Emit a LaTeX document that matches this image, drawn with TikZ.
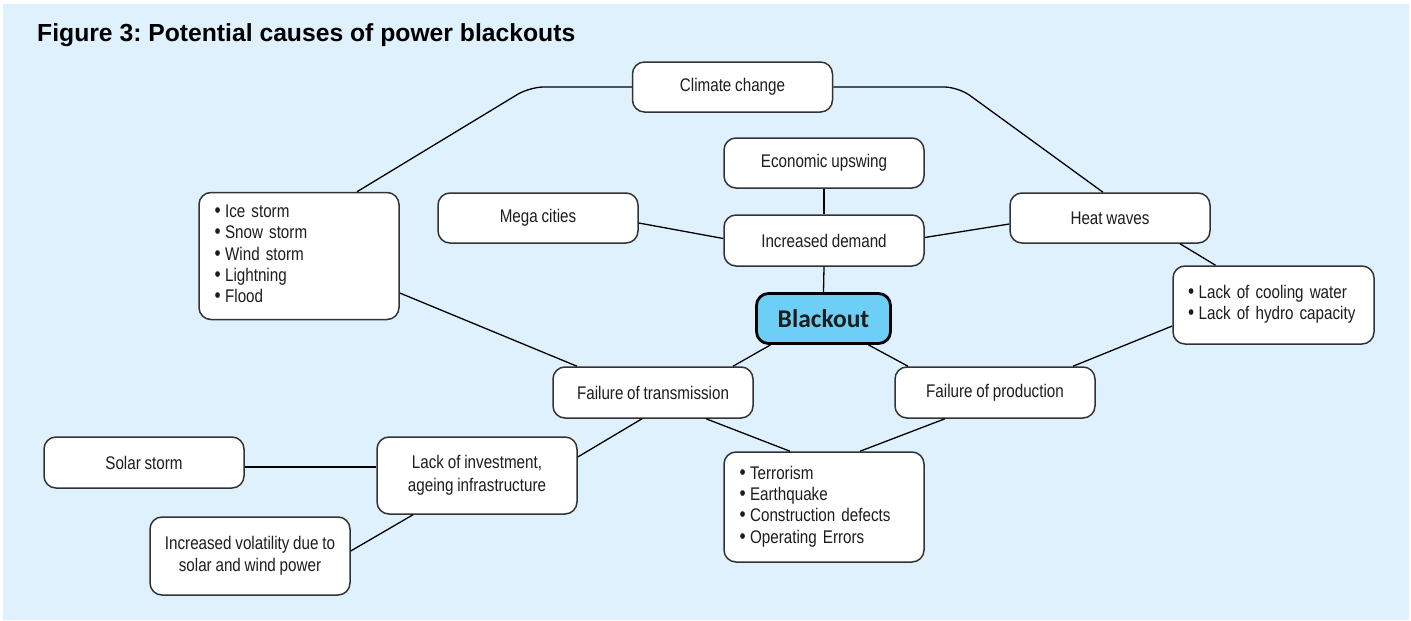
\documentclass[tikz,border=0pt]{standalone}
\usepackage{fontspec}
\setmainfont[FakeStretch=0.83,WordSpace=0.9]{Liberation Sans}
\newfontfamily\titlefont{Liberation Sans}
\newfontfamily\bofont{Carlito}
\definecolor{bgc}{HTML}{DFF1FC}
\definecolor{boxc}{HTML}{333333}
\definecolor{txt}{HTML}{1E1C1D}
\definecolor{bofill}{HTML}{6DCFF6}
\newcommand\blt{{\fontsize{21}{21}\selectfont•}\hspace{4.5pt}}
\newcommand\blist[1]{\begin{tabular}{@{}l@{}}#1\end{tabular}}
\frenchspacing
\begin{document}
\begin{tikzpicture}[x=1pt,y=-1pt,
  box/.style={draw=boxc, line width=1.5pt, fill=white, rounded corners=12pt,
    minimum width=200pt, minimum height=50pt, inner sep=0pt, text=txt, align=center,
    font=\fontsize{18.3}{22.5}\selectfont},
  blbox/.style={box, align=left, text width=169pt, inner xsep=15.5pt,
    font=\fontsize{18.3}{21.3}\selectfont},
  bostyle/.style={draw=black, line width=2.8pt, fill=bofill, rounded corners=12pt,
    minimum width=134pt, minimum height=50pt, inner sep=0pt, text=txt,
    font=\bofont\bfseries\fontsize{25.5}{30}\selectfont},
  conn/.style={line width=1.3pt, draw=black}]
\useasboundingbox (0,0) rectangle (1411,621);
\fill[bgc] (3,4) rectangle (1409,620);
\node[anchor=base west, inner sep=0pt, text=black, font=\titlefont\bfseries\fontsize{24.7}{28}\selectfont] (title) at (37,41) {Figure 3: Potential causes of power blackouts};

\node[box] (cc) at (732.5,87) {Climate change};
\node[box] (eco) at (824,163) {Economic upswing};
\node[box] (mc) at (538,218) {Mega cities};
\node[box, minimum height=51pt] (id) at (824,240.5) {Increased demand};
\node[box] (hw) at (1110,218) {Heat waves};
\node[blbox, minimum height=127pt] (ice) at (299,256) {\blist{\blt Ice storm\\\blt Snow storm\\\blt Wind storm\\\blt Lightning\\\blt Flood}};
\node[blbox, minimum height=78pt, text width=171pt, inner xsep=15pt] (cool) at (1273.5,305) {\blist{\blt Lack of cooling water\\\blt Lack of hydro capacity}};
\node[bostyle] (bo) at (823.5,318.5) {Blackout};
\node[box, minimum height=51pt] (ft) at (653,392.5) {Failure of transmission};
\node[box, minimum height=51pt] (fp) at (995,392.5) {Failure of production};
\node[box, minimum height=51pt] (ss) at (144,462.5) {Solar storm};
\node[box, minimum height=77pt] (li) at (477,475.5) {Lack of investment,\\ageing infrastructure};
\node[blbox, minimum height=110pt] (terr) at (824,507) {\blist{\blt Terrorism\\\blt Earthquake\\\blt Construction defects\\\blt Operating Errors}};
\node[box, minimum height=78pt] (iv) at (250,556) {Increased volatility due to\\solar and wind power};

\draw[conn, rounded corners=14pt] ([xshift=58pt]ice.north) -- ([xshift=-102pt]cc.west) -- (cc.west);
\draw[conn, rounded corners=14pt] (cc.east) -- ([xshift=125pt]cc.east) -- ([xshift=-7pt]hw.north);
\draw[conn] (eco.south) -- (id.north);
\draw[conn] ([yshift=-5pt]mc.east) -- ([yshift=2pt]id.west);
\draw[conn] ([yshift=-6pt]hw.west) -- ([yshift=3pt]id.east);
\draw[conn] ([xshift=70pt]hw.south) -- ([xshift=-58pt]cool.north);
\draw[conn] (id.south) -- (bo.north);
\draw[conn] ([xshift=-53pt]bo.south) -- ([xshift=80pt]ft.north);
\draw[conn] ([xshift=45pt]bo.south) -- ([xshift=-87pt]fp.north);
\draw[conn] ([yshift=-37pt]ice.east) -- ([xshift=-76pt]ft.north);
\draw[conn] ([yshift=-21pt]cool.west) -- ([xshift=78pt]fp.north);
\draw[conn] ([xshift=-11pt]ft.south) -- ([yshift=18.5pt]li.east);
\draw[conn] ([xshift=53pt]ft.south) -- ([xshift=-34pt]terr.north);
\draw[conn] ([xshift=-50pt]fp.south) -- ([xshift=36pt]terr.north);
\draw[conn] ([yshift=-4.5pt]ss.east) -- ([yshift=8.5pt]li.west);
\draw[conn] ([xshift=-64pt]li.south) -- ([yshift=5pt]iv.east);
\end{tikzpicture}
\end{document}
